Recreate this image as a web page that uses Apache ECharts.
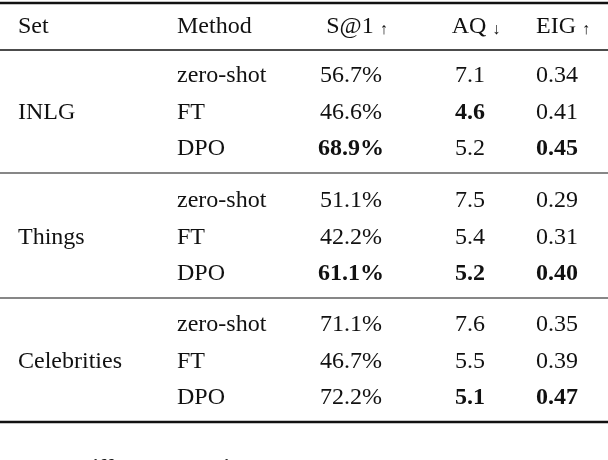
<!DOCTYPE html><html><head><meta charset="utf-8"><script src="https://cdn.jsdelivr.net/npm/echarts@6/dist/echarts.min.js"></script>
<style>html,body{margin:0;background:#fff}#c{width:608px;height:460px}</style></head><body><div id="c"></div><script>
const headers=['Set','Method','S@1','AQ','EIG'];
const headerArrows=['','','↑','↓','↑'];
const sets=['INLG','Things','Celebrities'];
const methods=['zero-shot','FT','DPO'];
const s1=[['56.7%','46.6%','68.9%'],['51.1%','42.2%','61.1%'],['71.1%','46.7%','72.2%']];
const aq=[['7.1','4.6','5.2'],['7.5','5.4','5.2'],['7.6','5.5','5.1']];
const eig=[['0.34','0.41','0.45'],['0.29','0.31','0.40'],['0.35','0.39','0.47']];
const bold={s1:[[0,2],[1,2]],aq:[[0,1],[1,2],[2,2]],eig:[[0,2],[1,2],[2,2]]};
const F='Liberation Serif, Times New Roman, Times, serif';
const g=[];
function T(x,y,t,al,b,sz){g.push({type:'text',x:x,y:y,style:{text:t,fill:'#111',font:(b?'bold ':'')+(sz||24)+'px '+F,textAlign:al,textVerticalAlign:'middle'}});}
function L(y,w){g.push({type:'line',shape:{x1:0,y1:y,x2:608,y2:y},style:{stroke:'#111',lineWidth:w}});}
const cx=[18,177,351,470,557];
L(3,2.5);
headers.forEach((h,i)=>{ if(i<2)T(cx[i],27,h,'left');else g.push({type:'text',x:cx[i]+6,y:27,style:{text:h+' {a|'+headerArrows[i]+'}',fill:'#111',font:'24px '+F,textAlign:'center',textVerticalAlign:'middle',rich:{a:{font:'16px '+F,fill:'#111',padding:[6,0,0,0]}}}});});
L(50,1.5);
const gy=[76,201,325],rowH=36.5;
const isB=(k,s,r)=>bold[k].some(p=>p[0]===s&&p[1]===r);
sets.forEach((s,si)=>{
 T(cx[0],gy[si]+rowH,s,'left');
 methods.forEach((m,ri)=>{const y=gy[si]+ri*rowH;
  T(cx[1],y,m,'left');
  T(cx[2],y,s1[si][ri],'center',isB('s1',si,ri));
  T(cx[3],y,aq[si][ri],'center',isB('aq',si,ri));
  T(cx[4],y,eig[si][ri],'center',isB('eig',si,ri));});
 if(si<2)L(gy[si]+97,1.2);
});
L(422,2.5);
g.push({type:'text',x:0,y:468,style:{text:'Table 1: {b|Different Domains.} Results on our candidate',fill:'#111',font:'22px '+F,textVerticalAlign:'middle',rich:{b:{font:'bold 22px '+F,fill:'#111'}}}});
const ch=echarts.init(document.getElementById('c'));
ch.setOption({animation:false,graphic:g});
</script></body></html>
